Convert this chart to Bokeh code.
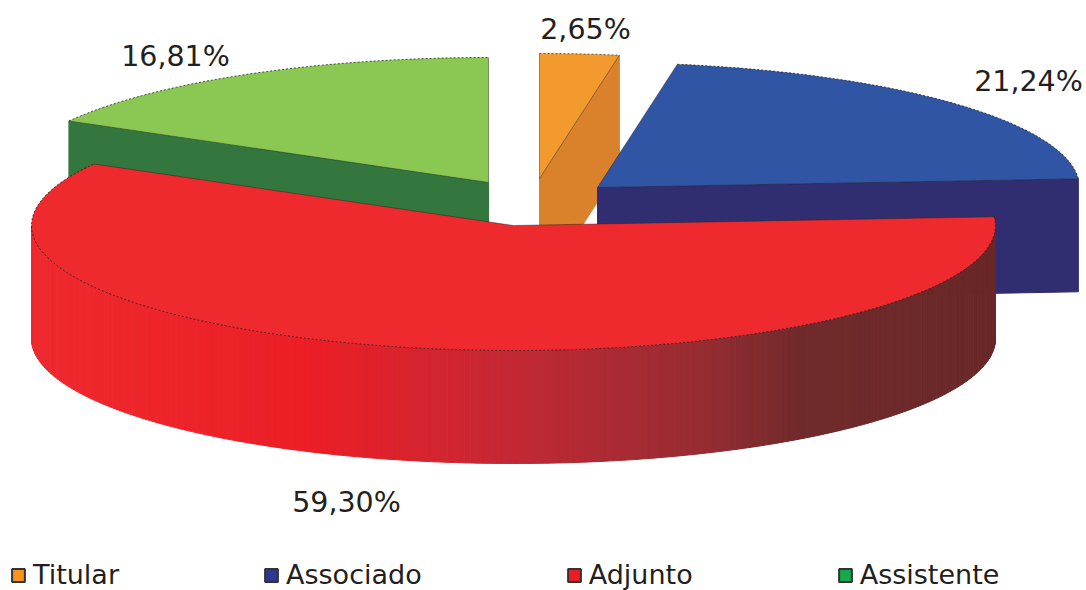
import numpy as np
from bokeh.core.properties import value
from bokeh.embed import file_html
from bokeh.models import ColumnDataSource, Legend, LegendItem, Range1d
from bokeh.plotting import figure
from bokeh.resources import INLINE

# ---- data
categories = ["Titular", "Associado", "Adjunto", "Assistente"]
percentages = [2.65, 21.24, 59.30, 16.81]
value_labels = ["2,65%", "21,24%", "59,30%", "16,81%"]

# ---- styles / layout (picture pixels)
FONT = "DejaVu Sans"
TEXT = "#231F20"
face_colors = ["#F29A2E", "#2F55A4", "#EE2A2F", "#8AC753"]
side_colors = ["#D9822B", "#302E70", "#EE2A2F", "#33773F"]
legend_colors = ["#F7941E", "#2B3990", "#ED1C24", "#16A84C"]
centers = [(539, 178), (597, 187), (513, 225), (488, 182)]
label_positions = [(585, 29), (1028, 81), (346, 502), (175, 56)]
RX, RY, DEPTH = 482, 125, 113
grad_x = [30, 310, 500, 700, 800, 995]
grad_rgb = [(238, 42, 47), (236, 30, 38), (198, 40, 52), (150, 44, 50), (112, 42, 43), (106, 40, 40)]

W, H = 1086, 590

p = figure(width=W, height=H, output_backend="svg", toolbar_location=None,
           x_range=Range1d(0, W), y_range=Range1d(H, 0),
           min_border=0, outline_line_color=None,
           background_fill_color="white", border_fill_color="white")
p.axis.visible = False
p.grid.visible = False


def rim(cx, cy, t):
    return cx + RX * np.sin(t), cy - RY * np.cos(t)


fractions = np.array(percentages) / sum(percentages)
ends = np.cumsum(fractions) * 2 * np.pi
starts = ends - fractions * 2 * np.pi


def cut_face(i, t):
    cx, cy = centers[i]
    x, y = rim(cx, cy, t)
    p.patch([cx, x, x, cx], [cy, y, y + DEPTH, cy + DEPTH],
            fill_color=side_colors[i], line_color=side_colors[i], line_width=1)


def outer_wall(i, a, b, n=2):
    cx, cy = centers[i]
    ts = np.linspace(a, b, n + 1)
    xs, ys, cols = [], [], []
    for t0, t1 in zip(ts[:-1], ts[1:]):
        x0, y0 = rim(cx, cy, t0)
        x1, y1 = rim(cx, cy, t1)
        xs.append([x0, x1, x1, x0])
        ys.append([y0, y1, y1 + DEPTH, y0 + DEPTH])
        xm = (x0 + x1) / 2
        rgb = [int(round(np.interp(xm, grad_x, [c[k] for c in grad_rgb]))) for k in range(3)]
        cols.append("#%02X%02X%02X" % tuple(rgb))
    p.patches(xs="xs", ys="ys", fill_color="cols", line_color="cols", line_width=1,
              source=ColumnDataSource(dict(xs=xs, ys=ys, cols=cols)))


def top_face(i):
    cx, cy = centers[i]
    ts = np.linspace(starts[i], ends[i], 160)
    x, y = rim(cx, cy, ts)
    px = np.concatenate([[cx], x, [cx]])
    py = np.concatenate([[cy], y, [cy]])
    p.patch(px, py, fill_color=face_colors[i], line_color=None)
    # thin edges, dotted on the outer rim as in the reference
    p.line([cx, x[0]], [cy, y[0]], line_color="#222222", line_alpha=0.45, line_width=1)
    p.line(x, y, line_color="#111111", line_alpha=0.7, line_width=1, line_dash="2 2")
    p.line([x[-1], cx], [y[-1], cy], line_color="#222222", line_alpha=0.45, line_width=1)


# back to front
cut_face(0, ends[0])
top_face(0)
cut_face(1, ends[1])
top_face(1)
cut_face(3, starts[3])
top_face(3)
outer_wall(2, starts[2], 3 * np.pi / 2, n=260)
top_face(2)

# value labels
p.text(x=[q[0] for q in label_positions], y=[q[1] for q in label_positions], text=value_labels,
       text_font=value(FONT), text_font_size="28.5px", text_color=TEXT,
       text_align="center", text_baseline="middle")

# legend: swatches only, these renderers draw nothing on the plot itself
items = []
nan = float("nan")
for name, col in zip(categories, legend_colors):
    r = p.patches(xs=[[nan, nan, nan]], ys=[[nan, nan, nan]], fill_color=col,
                  line_color="#333333", line_width=2)
    items.append(LegendItem(label=value(name), renderers=[r]))
legend = Legend(items=items, orientation="horizontal", location=(10, 0), margin=0, padding=0,
                border_line_color=None, background_fill_color=None, background_fill_alpha=0,
                glyph_width=16, glyph_height=16, label_standoff=7, spacing=144,
                label_text_font=FONT, label_text_font_size="27px", label_text_color=TEXT)
p.add_layout(legend, "center")

open("out.html", "w").write(file_html(p, INLINE))
